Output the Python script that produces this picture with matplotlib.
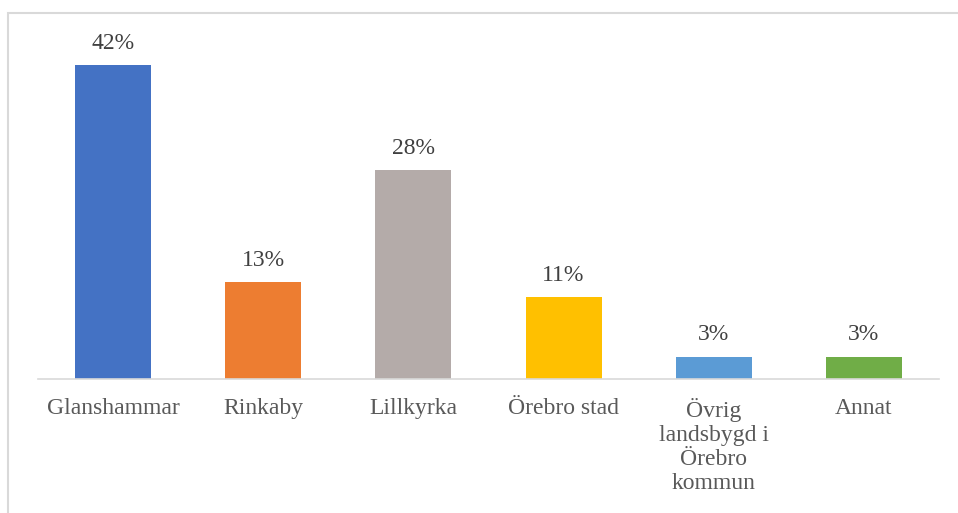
import matplotlib.pyplot as plt
from matplotlib.patches import Rectangle

categories = ['Glanshammar', 'Rinkaby', 'Lillkyrka', 'Örebro stad',
              'Övrig\nlandsbygd i\nÖrebro\nkommun', 'Annat']
values = [42, 13, 28, 11, 3, 3]
colors = ['#4472c4', '#ed7d31', '#b4aba9', '#ffc000', '#5b9bd5', '#70ad47']

plt.rcParams['font.family'] = ['Liberation Serif', 'DejaVu Serif']
txt = '#595959'

fig = plt.figure(figsize=(9.58, 5.13), dpi=100)
# light outer frame of the chart area
fig.patches.append(Rectangle((8 / 958, -0.1), 1.2, (513 - 13) / 513 + 0.1,
                             transform=fig.transFigure, fill=False,
                             edgecolor='#d9d9d9', linewidth=1.5))

ax = fig.add_axes([38 / 958, (513 - 379) / 513, 901 / 958, 45 * 7.476 / 513])
x = range(len(categories))
bars = ax.bar(x, values, width=0.505, color=colors)
for b, v in zip(bars, values):
    ax.annotate(f'{v}%', (b.get_x() + b.get_width() / 2, v), xytext=(0, 8),
                textcoords='offset points', ha='center', va='bottom',
                fontsize=17, color='#404040')

ax.set_xlim(-0.5, 5.5)
ax.set_ylim(0, 45)
ax.set_xticks(list(x))
ax.set_xticklabels(categories, fontsize=17, color=txt, linespacing=1.17, va='top')
ax.tick_params(axis='x', length=0, pad=14)
ax.set_yticks([])
for s in ['top', 'right', 'left']:
    ax.spines[s].set_visible(False)
ax.spines['bottom'].set_color('#d9d9d9')
ax.spines['bottom'].set_linewidth(1.2)

fig.savefig('out.png', dpi=100)
